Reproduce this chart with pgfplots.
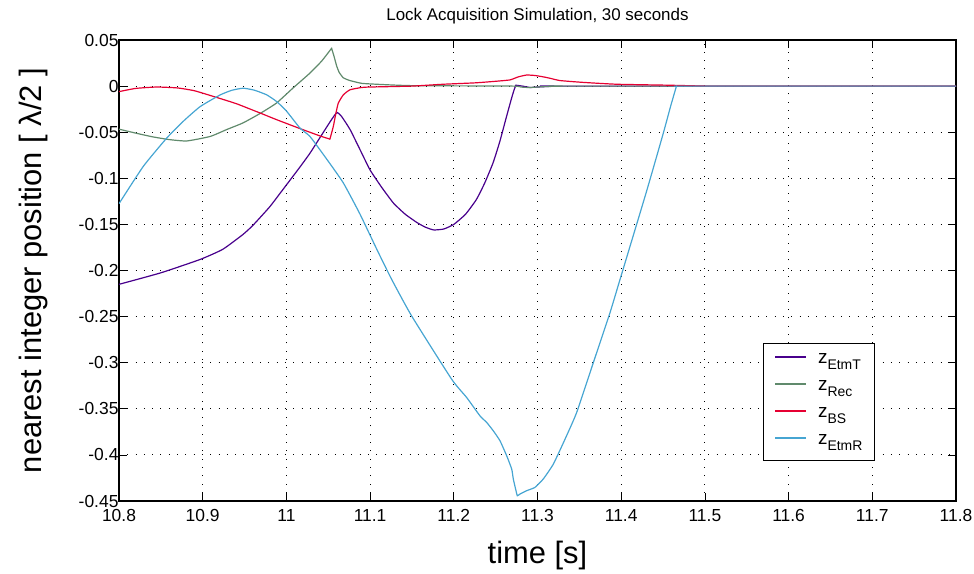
\documentclass[border=0pt]{standalone}
\usepackage{pgfplots}
\pgfplotsset{compat=1.18}
\usepackage{fontspec}
\setmainfont{Liberation Sans}
\definecolor{cEtmT}{RGB}{72,0,140}
\definecolor{cRec}{RGB}{96,138,108}
\definecolor{cBS}{RGB}{230,0,50}
\definecolor{cEtmR}{RGB}{70,165,210}
\newcommand\zs[1]{z\raisebox{-0.6ex}{\fontsize{14}{14}\selectfont #1}}
\begin{document}
\begin{tikzpicture}
\path[use as bounding box] (-119bp,-73bp) rectangle (855bp,501bp);
\begin{axis}[
  width=837bp,height=461bp,scale only axis,
  xmin=10.8,xmax=11.8,ymin=-0.45,ymax=0.05,
  xtick={10.8,10.9,11,11.1,11.2,11.3,11.4,11.5,11.6,11.7,11.8},
  xticklabels={10.8,10.9,11,11.1,11.2,11.3,11.4,11.5,11.6,11.7,11.8},
  ytick={-0.45,-0.4,-0.35,-0.3,-0.25,-0.2,-0.15,-0.1,-0.05,0,0.05},
  yticklabels={-0.45,-0.4,-0.35,-0.3,-0.25,-0.2,-0.15,-0.1,-0.05,0,0.05},
  ticklabel style={font=\fontsize{17.5}{17.5}\selectfont},
  xticklabel style={yshift=-5bp},
  yticklabel style={xshift=3bp},
  tick align=inside,major tick length=8bp,
  tick style={black,line width=0.8bp},
  axis line style={black,line width=1.5bp},
  grid=major,
  major grid style={black,line width=0.9bp,dash pattern=on 0.9bp off 7.4bp},
  title={Lock Acquisition Simulation, 30 seconds},
  title style={font=\fontsize{17}{17}\selectfont,at={(axis description cs:0.5,1.0304)},anchor=base},
  xlabel={time [s]},
  xlabel style={font=\fontsize{31}{31}\selectfont,at={(axis description cs:0.5,-0.1345)},anchor=base},
  ylabel={nearest integer position [ λ/2 ]},
  ylabel style={font=\fontsize{31}{31}\selectfont,at={(axis description cs:-0.092,0.5)},anchor=base},
  legend style={at={(axis description cs:0.769,0.343)},anchor=north west,
    draw=black,fill=white,font=\fontsize{19}{19}\selectfont,
    nodes={inner sep=0pt,text height=11bp,text depth=7bp},
    row sep=9bp,column sep=11bp,inner xsep=12bp,inner ysep=9bp},
  legend cell align=left,
  legend image code/.code={\draw[#1,line width=1.2bp] (0bp,4bp) -- (31bp,4bp);},
  every axis plot/.append style={line width=1.2bp,smooth,tension=0.3},
]
% corner points are listed twice so that the smooth curve keeps the kink
\addplot[cEtmT] coordinates {
(10.80,-0.215) (10.85,-0.2025) (10.897,-0.188) (10.924,-0.177) (10.948,-0.161)
(10.96,-0.151) (10.98,-0.131) (10.996,-0.112) (11.016,-0.088) (11.028,-0.073)
(11.04,-0.056) (11.052,-0.039) (11.058,-0.031) (11.061,-0.0287) (11.066,-0.033)
(11.076,-0.047) (11.088,-0.069) (11.10,-0.091) (11.114,-0.110) (11.128,-0.127)
(11.142,-0.139) (11.156,-0.148) (11.166,-0.153) (11.176,-0.156) (11.188,-0.155)
(11.20,-0.150) (11.214,-0.139) (11.227,-0.123) (11.237,-0.105) (11.247,-0.083)
(11.255,-0.060) (11.263,-0.033) (11.270,-0.010) (11.274,0.001) (11.274,0.001)
(11.282,0.000) (11.291,-0.0015) (11.30,-0.001) (11.32,0) (11.32,0) (11.8,0)};
\addlegendentry{\zs{EtmT}}
\addplot[cRec] coordinates {
(10.80,-0.0467) (10.82,-0.051) (10.84,-0.055) (10.86,-0.058) (10.881,-0.0595)
(10.909,-0.0546) (10.929,-0.047) (10.948,-0.040) (10.968,-0.030) (10.988,-0.0185)
(11.008,-0.002) (11.028,0.014) (11.042,0.027) (11.054,0.041) (11.054,0.041)
(11.057,0.032) (11.060,0.022) (11.063,0.015) (11.068,0.009) (11.076,0.006)
(11.09,0.003) (11.108,0.002) (11.15,0.0005) (11.27,0) (11.28,-0.001) (11.29,-0.0015)
(11.31,-0.0005) (11.33,0) (11.33,0) (11.8,0)};
\addlegendentry{\zs{Rec}}
\addplot[cBS] coordinates {
(10.80,-0.006) (10.82,-0.0025) (10.845,-0.001) (10.87,-0.002) (10.89,-0.005)
(10.912,-0.011) (10.94,-0.019) (10.968,-0.029) (10.99,-0.037) (11.016,-0.046)
(11.04,-0.054) (11.052,-0.0575) (11.052,-0.0575) (11.056,-0.044) (11.059,-0.030)
(11.062,-0.0185) (11.068,-0.0095) (11.076,-0.004) (11.09,-0.0015) (11.10,-0.001)
(11.15,0.000) (11.187,0.002) (11.225,0.0035) (11.247,0.005) (11.267,0.0067)
(11.277,0.010) (11.287,0.012) (11.297,0.0115) (11.307,0.010) (11.315,0.0085)
(11.327,0.006) (11.355,0.004) (11.395,0.002) (11.455,0.001) (11.5,0) (11.5,0) (11.8,0)};
\addlegendentry{\zs{BS}}
\addplot[cEtmR] coordinates {
(10.80,-0.1275) (10.829,-0.0871) (10.857,-0.0564) (10.877,-0.038) (10.897,-0.0222)
(10.921,-0.0095) (10.935,-0.0045) (10.9485,-0.0023) (10.962,-0.0045) (10.9765,-0.0095)
(10.9884,-0.0168) (11.00,-0.027) (11.0163,-0.0456) (11.0282,-0.0547) (11.048,-0.079)
(11.068,-0.105) (11.088,-0.139) (11.108,-0.177) (11.1258,-0.2097) (11.1497,-0.2494)
(11.1975,-0.3180) (11.2154,-0.3378) (11.2313,-0.3577) (11.2393,-0.3648) (11.2472,-0.3739)
(11.2552,-0.3847) (11.2632,-0.4010) (11.2692,-0.4154) (11.2711,-0.4262) (11.2743,-0.4388)
(11.2759,-0.4443) (11.2791,-0.4424) (11.2871,-0.4388) (11.2970,-0.4352) (11.307,-0.426)
(11.3189,-0.4100) (11.3329,-0.3829) (11.3468,-0.3540) (11.3667,-0.2999) (11.3866,-0.2458)
(11.3986,-0.2097) (11.43,-0.115) (11.45,-0.052) (11.459,-0.022) (11.466,0) (11.466,0)
(11.48,0) (11.8,0)};
\addlegendentry{\zs{EtmR}}
\end{axis}
\end{tikzpicture}
\end{document}
